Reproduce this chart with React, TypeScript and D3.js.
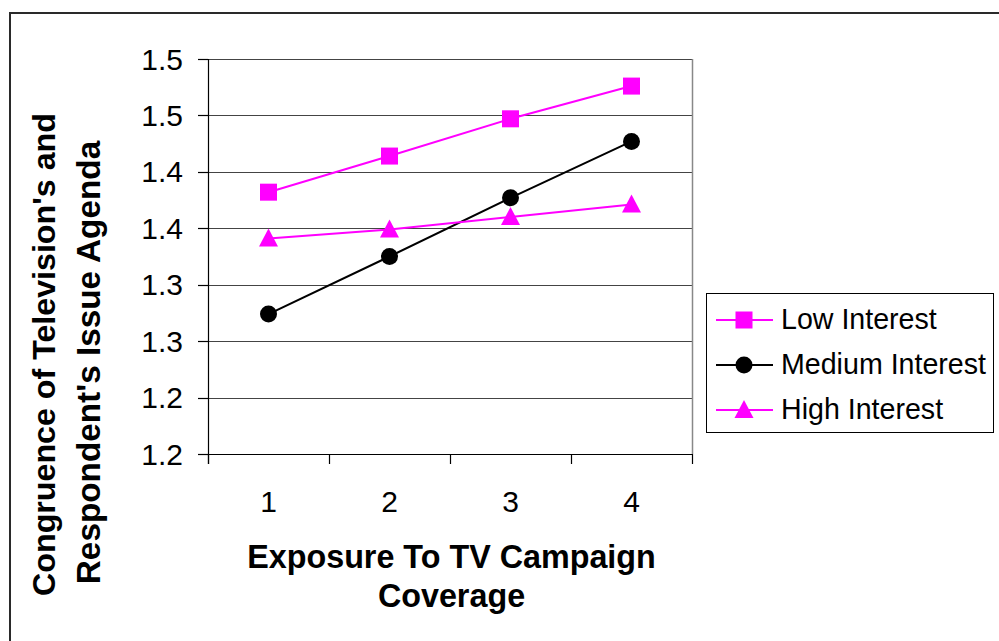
import React from "react";
import * as d3 from "d3";

const categories = ["1", "2", "3", "4"];
const lowInterest = [1.382, 1.414, 1.447, 1.476];
const mediumInterest = [1.274, 1.325, 1.377, 1.427];
const highInterest = [1.341, 1.349, 1.36, 1.371];
const yTickValues = [1.15, 1.2, 1.25, 1.3, 1.35, 1.4, 1.45, 1.5];
const yTickLabels = ["1.2", "1.2", "1.3", "1.3", "1.4", "1.4", "1.5", "1.5"];
const seriesNames = ["Low Interest", "Medium Interest", "High Interest"];

const W = 999;
const H = 641;
const plot = { left: 208, right: 692, top: 59, bottom: 454 };
const FONT = "'Liberation Sans', Arial, sans-serif";
const MAGENTA = "#FF00FF";

function Marker({ kind, x, y, color }: { kind: string; x: number; y: number; color: string }) {
  if (kind === "square") {
    return <rect x={x - 8.5} y={y - 8.5} width={17} height={17} fill={color} />;
  }
  if (kind === "circle") {
    return <circle cx={x} cy={y} r={8.5} fill={color} />;
  }
  const s = 19;
  const h = s * 0.95;
  return (
    <path
      d={`M${x},${y - (h * 2) / 3 + 2}L${x + s / 2},${y + h / 3 + 2}L${x - s / 2},${y + h / 3 + 2}Z`}
      fill={color}
    />
  );
}

export default function App() {
  const x = d3.scaleBand<string>().domain(categories).range([plot.left, plot.right]);
  const y = d3.scaleLinear().domain([1.15, 1.5]).range([plot.bottom, plot.top]);
  const cx = (c: string) => (x(c) as number) + x.bandwidth() / 2;

  const series = [
    { name: seriesNames[0], values: lowInterest, color: MAGENTA, marker: "square" },
    { name: seriesNames[1], values: mediumInterest, color: "#000000", marker: "circle" },
    { name: seriesNames[2], values: highInterest, color: MAGENTA, marker: "triangle" },
  ];

  const line = d3
    .line<[string, number]>()
    .x((d) => cx(d[0]))
    .y((d) => y(d[1]));

  const boundaries = [...categories.map((c) => x(c) as number), plot.right];

  const legend = { x: 706, y: 293, w: 287, h: 139 };
  const rowY = [320, 365, 410];

  return (
    <svg
      width={W}
      height={H}
      style={{ position: "absolute", left: 0, top: 0, background: "#fff" }}
      fontFamily={FONT}
    >
      <rect x={0} y={0} width={W} height={H} fill="#fff" />
      <rect x={10} y={13} width={1100} height={800} fill="none" stroke="#2a2a2a" strokeWidth={2} />

      {/* gridlines */}
      {yTickValues.map((v, i) => (
        <line
          key={"g" + i}
          x1={plot.left}
          x2={plot.right}
          y1={Math.round(y(v)) + 0.5}
          y2={Math.round(y(v)) + 0.5}
          stroke="#444"
          strokeWidth={1.2}
        />
      ))}
      <line x1={plot.right + 0.5} x2={plot.right + 0.5} y1={plot.top} y2={plot.bottom} stroke="#888" strokeWidth={1.5} />

      {/* y axis */}
      <line x1={plot.left + 0.5} x2={plot.left + 0.5} y1={plot.top} y2={plot.bottom + 10} stroke="#000" strokeWidth={1.2} />
      {yTickValues.map((v, i) => (
        <g key={"yt" + i}>
          <line
            x1={plot.left - 10}
            x2={plot.left}
            y1={Math.round(y(v)) + 0.5}
            y2={Math.round(y(v)) + 0.5}
            stroke="#000"
            strokeWidth={1.2}
          />
          <text x={183} y={y(v) + 10.5} textAnchor="end" fontSize={30} fill="#000">
            {yTickLabels[i]}
          </text>
        </g>
      ))}

      {/* x axis */}
      <line x1={plot.left} x2={plot.right} y1={plot.bottom + 0.5} y2={plot.bottom + 0.5} stroke="#000" strokeWidth={1.2} />
      {boundaries.map((b, i) => (
        <line key={"xt" + i} x1={b + 0.5} x2={b + 0.5} y1={plot.bottom} y2={plot.bottom + 10} stroke="#000" strokeWidth={1.2} />
      ))}
      {categories.map((c) => (
        <text key={"xl" + c} x={cx(c)} y={512} textAnchor="middle" fontSize={30} fill="#000">
          {c}
        </text>
      ))}

      {/* series */}
      {series.map((s) => (
        <g key={s.name}>
          <path
            d={line(categories.map((c, i) => [c, s.values[i]] as [string, number])) || ""}
            fill="none"
            stroke={s.color}
            strokeWidth={2}
          />
          {categories.map((c, i) => (
            <Marker key={c} kind={s.marker} x={cx(c)} y={y(s.values[i])} color={s.color} />
          ))}
        </g>
      ))}

      {/* axis titles */}
      <text x={451.5} y={568} textAnchor="middle" fontSize={32.3} fontWeight="bold" fill="#000">
        Exposure To TV Campaign
      </text>
      <text x={451.5} y={607} textAnchor="middle" fontSize={32.3} fontWeight="bold" fill="#000">
        Coverage
      </text>
      <text
        transform="translate(55,354.5) rotate(-90)"
        textAnchor="middle"
        fontSize={32.2}
        fontWeight="bold"
        fill="#000"
      >
        Congruence of Television's and
      </text>
      <text
        transform="translate(100,362.5) rotate(-90)"
        textAnchor="middle"
        fontSize={33.3}
        fontWeight="bold"
        fill="#000"
      >
        Respondent's Issue Agenda
      </text>

      {/* legend */}
      <rect x={legend.x + 0.5} y={legend.y + 0.5} width={legend.w} height={legend.h} fill="#fff" stroke="#000" strokeWidth={1} />
      {series.map((s, i) => (
        <g key={"lg" + s.name}>
          <line x1={716} x2={773} y1={rowY[i]} y2={rowY[i]} stroke={s.color} strokeWidth={2} />
          <Marker kind={s.marker} x={744} y={rowY[i]} color={s.color} />
          <text x={781} y={rowY[i] + 8.5} fontSize={28.6} fill="#000">
            {s.name}
          </text>
        </g>
      ))}
    </svg>
  );
}
